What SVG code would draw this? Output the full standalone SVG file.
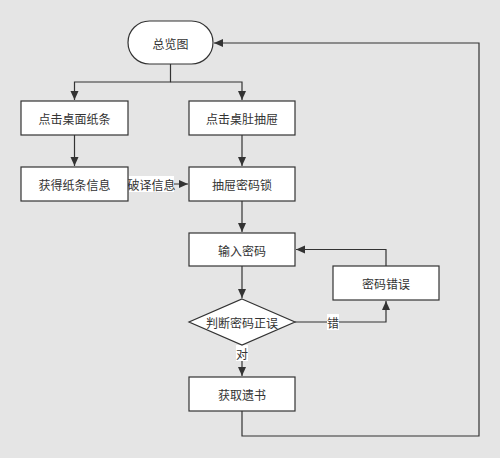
<svg xmlns="http://www.w3.org/2000/svg" width="500" height="458" viewBox="0 0 500 458">
<style>
.n{fill:#fff;stroke:#333;stroke-width:1.2}
.t{font-family:"Noto Sans CJK SC","Liberation Sans",sans-serif;font-size:12px;fill:#333;text-anchor:middle;dominant-baseline:central}
.c{fill:none;stroke:#333;stroke-width:1.2}
.lb{fill:#fff}
</style>
<defs>
<marker id="a" markerWidth="10" markerHeight="10" refX="9" refY="5" orient="auto" markerUnits="userSpaceOnUse">
<path d="M0,1 L9,5 L0,9 Z" fill="#333"/>
</marker>
</defs>
<rect width="500" height="458" fill="#e5e5e5"/>
<g id="connectors">
<path class="c" d="M170.5,64 V82 H74.5 V100" marker-end="url(#a)"/>
<path class="c" d="M170.5,82 H242 V100" marker-end="url(#a)"/>
<path class="c" d="M74.5,135 V166" marker-end="url(#a)"/>
<path class="c" d="M242,135 V166" marker-end="url(#a)"/>
<path class="c" d="M128,184 H188" marker-end="url(#a)"/>
<path class="c" d="M242,201 V232" marker-end="url(#a)"/>
<path class="c" d="M242,266 V298" marker-end="url(#a)"/>
<path class="c" d="M295,322 H386 V301" marker-end="url(#a)"/>
<path class="c" d="M386,266 V249.5 H296" marker-end="url(#a)"/>
<path class="c" d="M242,345 V376" marker-end="url(#a)"/>
<path class="c" d="M242,411 V436 H479 V43 H214" marker-end="url(#a)"/>
<rect class="lb" x="129" y="176" width="45" height="16"/>
<text class="t" x="151.5" y="184">破译信息</text>
<rect class="lb" x="327" y="314" width="12" height="16"/>
<text class="t" x="333" y="322">错</text>
<rect class="lb" x="236" y="345" width="12" height="16"/>
<text class="t" x="242" y="353">对</text>
</g>
<g id="start"><rect class="n" x="128" y="21" width="85" height="43" rx="21.5"/><text class="t" x="170.5" y="43">总览图</text></g>
<g id="n1"><rect class="n" x="21" y="101" width="107" height="34"/><text class="t" x="74.5" y="118">点击桌面纸条</text></g>
<g id="n2"><rect class="n" x="189" y="101" width="106" height="34"/><text class="t" x="242" y="118">点击桌肚抽屉</text></g>
<g id="n3"><rect class="n" x="21" y="167" width="107" height="34"/><text class="t" x="74.5" y="184">获得纸条信息</text></g>
<g id="n4"><rect class="n" x="189" y="167" width="106" height="34"/><text class="t" x="242" y="184">抽屉密码锁</text></g>
<g id="n5"><rect class="n" x="189" y="233" width="106" height="33"/><text class="t" x="242" y="250">输入密码</text></g>
<g id="n6"><rect class="n" x="333" y="266" width="106" height="34"/><text class="t" x="386" y="283">密码错误</text></g>
<g id="n7"><polygon class="n" points="242,299 295,322 242,345 189,322"/><text class="t" x="242" y="322">判断密码正误</text></g>
<g id="n8"><rect class="n" x="189" y="377" width="106" height="34"/><text class="t" x="242" y="394">获取遗书</text></g>
</svg>
